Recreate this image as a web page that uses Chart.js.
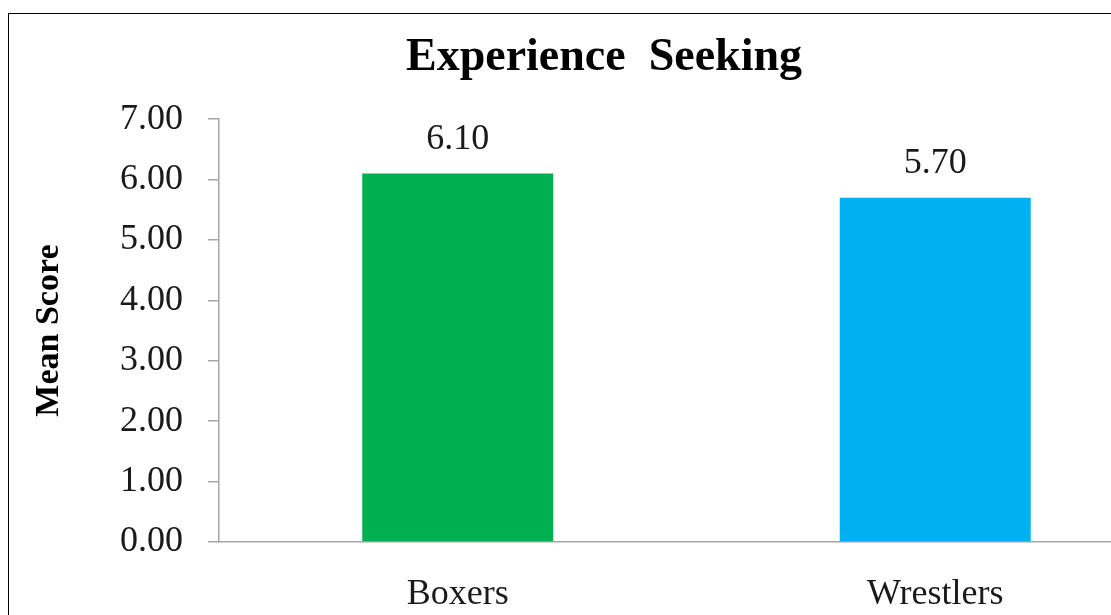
<!DOCTYPE html>
<html>
<head>
<meta charset="utf-8">
<script src="https://cdn.jsdelivr.net/npm/chart.js@4"></script>
<style>
  body { margin: 0; background: #fff; overflow: hidden; }
  #frame { position: absolute; left: 8px; top: 13px; width: 1300px; height: 800px; border: 1px solid #000; }
  #wrap { position: absolute; left: 0; top: 0; width: 1208px; height: 700px; }
</style>
</head>
<body>
<div id="frame"></div>
<div id="wrap"><canvas id="myChart" width="1208" height="700"></canvas></div>
<script>
var groups = ['Boxers', 'Wrestlers'];
var meanScores = [6.10, 5.70];
var barColors = ['#00B050', '#00B0F0'];
var yTicks = [0, 1, 2, 3, 4, 5, 6, 7];

var serif = "'Liberation Serif', 'Times New Roman', serif";

// value labels above each bar
var barLabels = {
    id: 'barLabels',
    afterDatasetsDraw: function(chart){
        var ctx = chart.ctx;
        var meta = chart.getDatasetMeta(0);
        ctx.save();
        ctx.font = '36px ' + serif;
        ctx.fillStyle = '#1a1a1a';
        ctx.textAlign = 'center';
        ctx.textBaseline = 'middle';
        meta.data.forEach(function(bar, i){
            ctx.fillText(meanScores[i].toFixed(2), bar.x, bar.y - 34);
        });
        ctx.restore();
    }
};

var ctx = document.getElementById('myChart').getContext('2d');
var myChart = new Chart(ctx, {
    type: 'bar',
    data: {
        labels: groups,
        datasets: [{
            data: meanScores,
            backgroundColor: barColors,
            borderWidth: 0,
            barPercentage: 0.4,
            categoryPercentage: 1
        }]
    },
    options: {
        responsive: false,
        animation: false,
        layout: { padding: { left: 34, right: 34, top: 0, bottom: 84 } },
        plugins: {
            legend: { display: false },
            tooltip: { enabled: false },
            title: {
                display: true,
                text: 'Experience  Seeking',
                color: '#000',
                font: { family: serif, size: 46, weight: 'bold' },
                padding: { top: 31, bottom: 33 }
            }
        },
        scales: {
            x: {
                grid: { display: true, drawOnChartArea: false, drawTicks: false },
                border: { display: true, color: '#A6A6A6', width: 1.5 },
                ticks: { color: '#1a1a1a', padding: 31, font: { family: serif, size: 36 } },
                afterFit: function(scale){ scale.height = 74; }
            },
            y: {
                min: 0,
                max: 7,
                afterBuildTicks: function(scale){
                    scale.ticks = yTicks.map(function(v){ return { value: v }; });
                },
                grid: { display: true, drawOnChartArea: false, drawTicks: true, tickLength: 11, color: '#A6A6A6', lineWidth: 1.5 },
                border: { display: true, color: '#A6A6A6', width: 1.5 },
                ticks: {
                    color: '#1a1a1a',
                    padding: 25,
                    font: { family: serif, size: 36 },
                    callback: function(v){ return Number(v).toFixed(2); }
                },
                title: {
                    display: true,
                    text: 'Mean Score',
                    color: '#000',
                    font: { family: serif, size: 34, weight: 'bold', lineHeight: 0.9 },
                    padding: { top: 0, bottom: 0 }
                },
                afterFit: function(scale){ scale.width = 185; }
            }
        }
    },
    plugins: [barLabels]
});
</script>
</body>
</html>
